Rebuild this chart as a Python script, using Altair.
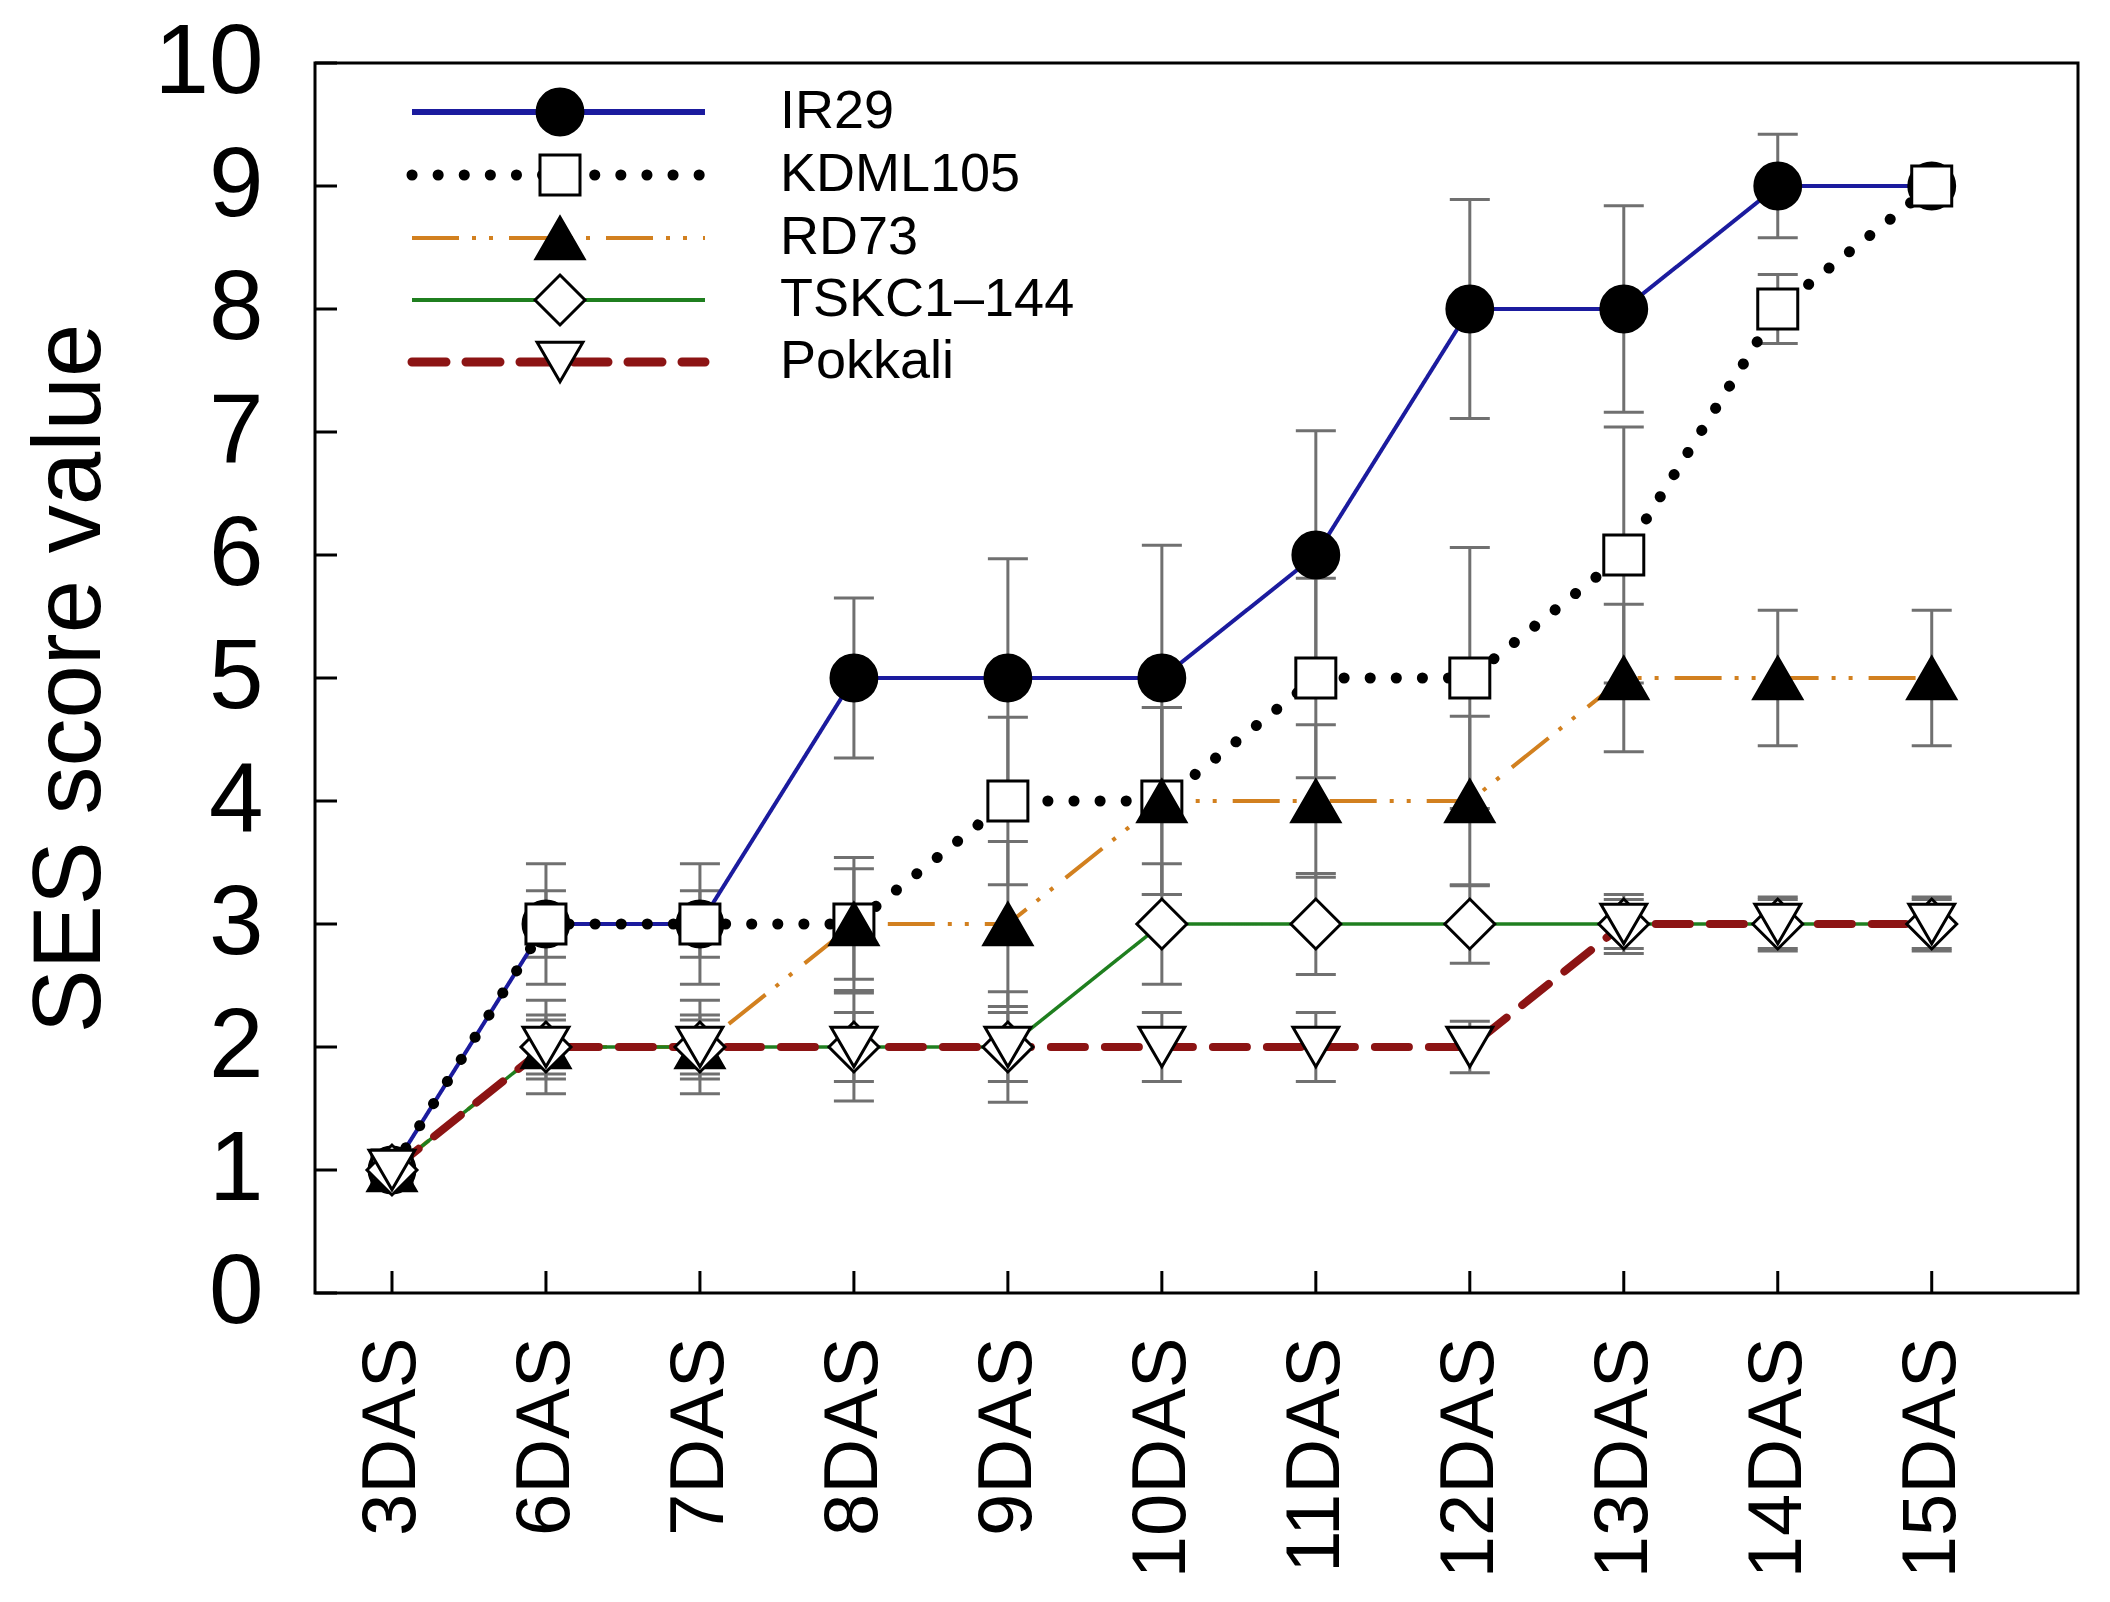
import altair as alt
import pandas as pd

days = ["3DAS", "6DAS", "7DAS", "8DAS", "9DAS", "10DAS", "11DAS", "12DAS", "13DAS", "14DAS", "15DAS"]
series_names = ["IR29", "KDML105", "RD73", "TSKC1–144", "Pokkali"]

ir29 = [1, 3, 3, 5, 5, 5, 6, 8, 8, 9, 9]
ir29_err = [0.1, 0.49, 0.49, 0.65, 0.97, 1.08, 1.01, 0.89, 0.84, 0.42, 0.0]
kdml105 = [1, 3, 3, 3, 4, 4, 5, 5, 6, 8, 9]
kdml105_err = [0.1, 0.27, 0.27, 0.54, 0.68, 0.76, 0.81, 1.06, 1.04, 0.28, 0.0]
rd73 = [1, 2, 2, 3, 3, 4, 4, 4, 5, 5, 5]
rd73_err = [0.1, 0.38, 0.38, 0.45, 0.67, 0.76, 0.62, 0.69, 0.60, 0.55, 0.55]
tskc = [1, 2, 2, 2, 2, 3, 3, 3, 3, 3, 3]
tskc_err = [0.1, 0.26, 0.26, 0.44, 0.45, 0.49, 0.41, 0.32, 0.24, 0.22, 0.22]
pokkali = [1, 2, 2, 2, 2, 2, 2, 2, 3, 3, 3]
pokkali_err = [0.1, 0.22, 0.22, 0.28, 0.28, 0.28, 0.28, 0.21, 0.20, 0.20, 0.20]

values = [ir29, kdml105, rd73, tskc, pokkali]
errors = [ir29_err, kdml105_err, rd73_err, tskc_err, pokkali_err]

rows = []
for s, vals, errs in zip(series_names, values, errors):
    for i, (v, e) in enumerate(zip(vals, errs)):
        rows.append({"series": s, "day": i, "value": v, "lo": v - e, "hi": v + e})
df = pd.DataFrame(rows)

styles = {
    "IR29": dict(color="#1b1b9e", width=4, dash=[1, 0], cap="butt",
                 shape="circle", fill="black", size=2100),
    "KDML105": dict(color="black", width=11, dash=[0.1, 26], cap="round",
                    shape="square", fill="white", size=1600),
    "RD73": dict(color="#d2801f", width=4, dash=[47, 13, 4, 13, 4, 16], cap="butt",
                 shape="triangle-up", fill="black", size=2300),
    "TSKC1–144": dict(color="#1f7f1f", width=3.5, dash=[1, 0], cap="butt",
                      shape="diamond", fill="white", size=2500),
    "Pokkali": dict(color="#8c1414", width=8, dash=[34, 20], cap="round",
                    shape="triangle-down", fill="white", size=2100),
}

W, H = 1763, 1230
FONT = "Liberation Sans"
xscale = alt.Scale(domain=[-0.5, 10.95], nice=False, zero=False)
yscale = alt.Scale(domain=[0, 10], nice=False, zero=False)

label_expr = "[" + ",".join("'%s'" % d for d in days) + "][datum.value]"

x_axis = alt.Axis(values=list(range(len(days))), labelExpr=label_expr, labelAngle=270,
                  labelFontSize=76, labelFont=FONT, labelColor="black", labelPadding=44,
                  labelLimit=2000, ticks=False, domain=False, grid=False, title=None)
y_axis = alt.Axis(values=list(range(11)), format="d", labelFontSize=98, labelFont=FONT,
                  labelColor="black", labelPadding=52, labelLimit=2000, ticks=False,
                  domain=False, grid=False,
                  title="SES score value", titleFontSize=96, titleFont=FONT,
                  titleFontWeight="normal", titleColor="black", titlePadding=34)

base = alt.Chart(df)

layers = []

# error bars (stems + caps)
layers.append(base.mark_rule(color="#707070", strokeWidth=3).encode(
    x=alt.X("day:Q", scale=xscale, axis=x_axis),
    y=alt.Y("lo:Q", scale=yscale, axis=y_axis),
    y2="hi:Q"))
for fld in ["lo", "hi"]:
    layers.append(base.mark_tick(color="#707070", thickness=3, size=40, orient="horizontal",
                                 opacity=1).encode(
        x=alt.X("day:Q", scale=xscale),
        y=alt.Y(fld + ":Q", scale=yscale)))

# lines
for s in series_names:
    st = styles[s]
    layers.append(base.transform_filter(alt.datum.series == s).mark_line(
        color=st["color"], strokeWidth=st["width"], strokeDash=st["dash"],
        strokeCap=st["cap"]).encode(
        x=alt.X("day:Q", scale=xscale),
        y=alt.Y("value:Q", scale=yscale)))

# markers
for s in series_names:
    st = styles[s]
    layers.append(base.transform_filter(alt.datum.series == s).mark_point(
        shape=st["shape"], filled=True, fill=st["fill"], stroke="black", strokeWidth=3,
        size=st["size"], opacity=1, fillOpacity=1).encode(
        x=alt.X("day:Q", scale=xscale),
        y=alt.Y("value:Q", scale=yscale)))

# inward ticks
tick_df = pd.DataFrame({"t": list(range(11))})
layers.append(alt.Chart(tick_df).mark_rule(color="black", strokeWidth=3).encode(
    y=alt.Y("t:Q", scale=yscale), x=alt.value(0), x2=alt.value(22)))
layers.append(alt.Chart(tick_df).mark_rule(color="black", strokeWidth=3).encode(
    x=alt.X("t:Q", scale=xscale), y=alt.value(H), y2=alt.value(H - 22)))

# legend
one = pd.DataFrame({"k": [0]})
leg_y = [49, 112, 175, 237, 299]
leg_width = {"IR29": 6, "KDML105": 11, "RD73": 4, "TSKC1–144": 4, "Pokkali": 9}
for s, ly in zip(series_names, leg_y):
    st = styles[s]
    layers.append(alt.Chart(one).mark_rule(
        color=st["color"], strokeWidth=leg_width[s], strokeDash=st["dash"],
        strokeCap=st["cap"]).encode(x=alt.value(97), x2=alt.value(390), y=alt.value(ly)))
    layers.append(alt.Chart(one).mark_point(
        shape=st["shape"], filled=True, fill=st["fill"], stroke="black", strokeWidth=3,
        size=st["size"], opacity=1, fillOpacity=1).encode(
        x=alt.value(245), y=alt.value(ly)))
    layers.append(alt.Chart(one).mark_text(
        align="left", baseline="middle", fontSize=54, font=FONT, color="black").encode(
        x=alt.value(465), y=alt.value(ly), text=alt.value(s)))

chart = alt.layer(*layers).properties(
    width=W, height=H,
    autosize=alt.AutoSizeParams(type="none"),
    padding={"left": 307, "top": 55, "right": 20, "bottom": 298},
    background="white",
).configure_view(stroke="black", strokeWidth=3)

chart.save("out.html", embed_options={"renderer": "svg", "actions": False})
